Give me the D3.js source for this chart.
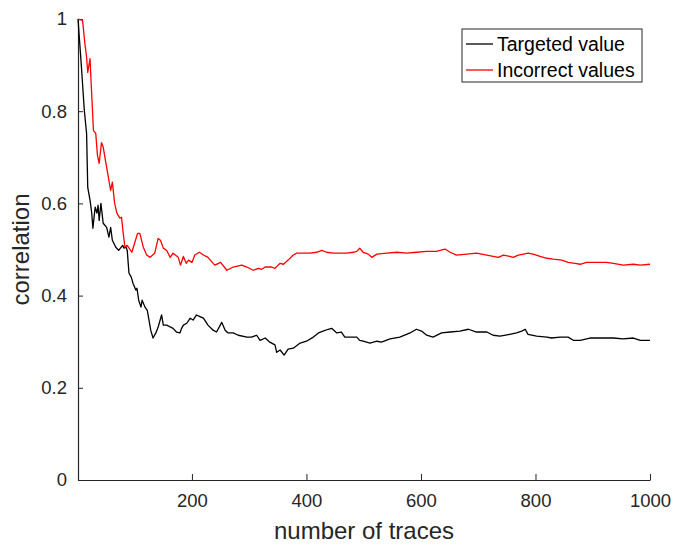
<!DOCTYPE html>
<meta charset="utf-8">
<head>
  <title>Correlation vs number of traces</title>
</head>
<style>
  body { margin: 0; background: #fff; }
  .tick text { font-family: "Liberation Sans", Arial, sans-serif; font-size: 18.5px; fill: #262626; }
  .lbl { font-family: "Liberation Sans", Arial, sans-serif; font-size: 24px; fill: #262626; }
  .leg { font-family: "Liberation Sans", Arial, sans-serif; font-size: 19.5px; fill: #000; }
</style>
<body>
<svg id="chart" width="680" height="548"></svg>
<script src="https://cdn.jsdelivr.net/npm/d3@7/dist/d3.min.js"></script>
<script>
// targeted key (black)
var targetX = [1, 7, 12, 16, 18, 22, 25, 27, 31, 34, 36, 38, 41, 45, 51, 55, 58, 61, 67, 72, 79, 81, 85, 87,
  90, 94, 97, 102, 104, 107, 111, 113, 118, 122, 125, 128, 132, 137, 141, 147, 150, 156, 162, 167, 173, 179,
  182, 185, 191, 197, 202, 208, 213, 220, 228, 237, 243, 252, 258, 263, 272, 281, 296, 304, 313, 319, 328,
  336, 345, 348, 354, 361, 368, 377, 389, 400, 412, 421, 429, 438, 444, 453, 461, 467, 476, 488, 493, 499,
  511, 523, 531, 546, 563, 581, 592, 601, 610, 621, 636, 651, 668, 683, 697, 715, 726, 738, 755, 767, 776,
  782, 787, 802, 820, 828, 843, 857, 866, 878, 895, 918, 936, 953, 971, 983, 1000];
var targetY = [1.0, 0.896, 0.802, 0.752, 0.635, 0.607, 0.579, 0.546, 0.592, 0.579, 0.596, 0.563, 0.600, 0.557,
  0.548, 0.527, 0.548, 0.520, 0.505, 0.498, 0.509, 0.503, 0.505, 0.498,
  0.449, 0.440, 0.427, 0.412, 0.416, 0.390, 0.375, 0.390, 0.375, 0.368, 0.347, 0.325, 0.308, 0.319, 0.332,
  0.358, 0.336, 0.336, 0.332, 0.329, 0.321, 0.319,
  0.329, 0.336, 0.340, 0.351, 0.347, 0.358, 0.355, 0.351, 0.336, 0.325, 0.321, 0.342, 0.325, 0.319, 0.319,
  0.314, 0.310, 0.310, 0.314, 0.303, 0.308,
  0.299, 0.293, 0.277, 0.282, 0.271, 0.284, 0.286, 0.297, 0.301, 0.310, 0.319, 0.323, 0.327, 0.329, 0.319,
  0.321, 0.310, 0.310, 0.310, 0.303, 0.301,
  0.297, 0.301, 0.299, 0.306, 0.310, 0.319, 0.327, 0.323, 0.314, 0.310, 0.319, 0.321, 0.323, 0.327, 0.321,
  0.321, 0.314, 0.312, 0.316, 0.319, 0.323,
  0.327, 0.316, 0.312, 0.310, 0.308, 0.310, 0.310, 0.303, 0.303, 0.308, 0.308, 0.308, 0.306, 0.308, 0.303, 0.303];

// incorrect keys (red)
var wrongX = [1, 9, 13, 16, 18, 22, 24, 28, 32, 35, 38, 42, 45, 49, 54, 58, 61, 65, 69, 74, 77, 80, 83, 87,
  95, 100, 105, 109, 115, 121, 127, 135, 141, 145, 150, 156, 162, 167, 176, 180, 185, 190, 194, 200, 205,
  213, 220, 228, 237, 240, 250, 261, 272, 287, 296, 307, 316, 322, 328, 339, 345, 354, 360, 368, 377, 383,
  394, 406, 418, 427, 435, 447, 459, 470, 482, 488, 493, 499, 508, 514, 523, 540, 558, 575, 592, 610, 627,
  642, 651, 662, 680, 697, 715, 735, 744, 755, 761, 770, 779, 787, 796, 808, 820, 831, 846, 857, 869, 878,
  889, 907, 924, 936, 953, 971, 983, 1000];
var wrongY = [1.0, 0.997, 0.947, 0.917, 0.884, 0.914, 0.860, 0.758, 0.752, 0.704, 0.687, 0.732, 0.722, 0.693,
  0.657, 0.628, 0.646, 0.600, 0.579, 0.568, 0.570, 0.535, 0.505, 0.509,
  0.494, 0.514, 0.535, 0.535, 0.505, 0.488, 0.483, 0.492, 0.524, 0.520, 0.503, 0.498, 0.483, 0.492, 0.483,
  0.466, 0.485, 0.470, 0.477, 0.472, 0.488,
  0.494, 0.488, 0.483, 0.470, 0.466, 0.472, 0.455, 0.462, 0.466, 0.462, 0.455, 0.459, 0.457, 0.462, 0.462,
  0.459, 0.470, 0.468, 0.477, 0.488, 0.492,
  0.492, 0.492, 0.494, 0.498, 0.494, 0.492, 0.492, 0.492, 0.494, 0.496, 0.503, 0.494, 0.490, 0.483, 0.490,
  0.492, 0.494, 0.492, 0.494, 0.496, 0.496,
  0.501, 0.494, 0.488, 0.490, 0.492, 0.488, 0.483, 0.488, 0.485, 0.483, 0.488, 0.490, 0.492, 0.490, 0.485,
  0.481, 0.479, 0.477, 0.472, 0.470, 0.468,
  0.472, 0.472, 0.472, 0.470, 0.466, 0.468, 0.466, 0.468];

var xTicks = [200, 400, 600, 800, 1000];
var yTicks = [0, 0.2, 0.4, 0.6, 0.8, 1];
var seriesNames = ["Targeted value", "Incorrect values"];
var seriesColors = ["#000000", "#ff0000"];

var svg = d3.select("#chart");
var mLeft = 78, mRight = 650, mTop = 19, mBottom = 480;

var x = d3.scaleLinear().domain([1, 1000]).range([mLeft, mRight]);
var y = d3.scaleLinear().domain([0, 1]).range([mBottom, mTop]);

// axes, MATLAB style: ticks inward, box off
var xAxis = svg.append("g")
  .attr("transform", "translate(0," + mBottom + ")")
  .call(d3.axisBottom(x).tickValues(xTicks).tickSizeInner(-6).tickSizeOuter(0).tickPadding(14).tickFormat(d3.format("d")));
var yAxis = svg.append("g")
  .attr("transform", "translate(" + mLeft + ",0)")
  .call(d3.axisLeft(y).tickValues(yTicks).tickSizeInner(-5).tickSizeOuter(0).tickPadding(11).tickFormat(function(d) { return d3.format("")(d); }));

[xAxis, yAxis].forEach(function(a) {
  a.select(".domain").attr("stroke", "#262626").attr("stroke-width", 1.2);
  a.selectAll(".tick line").attr("stroke", "#262626").attr("stroke-width", 1);
});
xAxis.selectAll(".tick text").attr("dy", "0.71em");

var line = d3.line()
  .x(function(d) { return x(d[0]); })
  .y(function(d) { return y(d[1]); });

var series = [d3.zip(targetX, targetY), d3.zip(wrongX, wrongY)];

// black plotted first, red on top
series.forEach(function(s, i) {
  svg.append("path")
    .datum(s)
    .attr("fill", "none")
    .attr("stroke", seriesColors[i])
    .attr("stroke-width", 1.3)
    .attr("stroke-linejoin", "round")
    .attr("d", line);
});

// axis labels
svg.append("text").attr("class", "lbl")
  .attr("x", (mLeft + mRight) / 2).attr("y", 539)
  .attr("text-anchor", "middle")
  .text("number of traces");
svg.append("text").attr("class", "lbl")
  .attr("transform", "translate(29," + (mTop + mBottom) / 2 + ") rotate(-90)")
  .attr("text-anchor", "middle")
  .text("correlation");

// legend
var leg = svg.append("g").attr("transform", "translate(462,29)");
leg.append("rect")
  .attr("width", 180).attr("height", 53)
  .attr("fill", "#fff").attr("stroke", "#262626").attr("stroke-width", 1);
seriesNames.forEach(function(name, i) {
  var yy = 15 + i * 26;
  leg.append("line")
    .attr("x1", 4).attr("x2", 31).attr("y1", yy).attr("y2", yy)
    .attr("stroke", seriesColors[i]).attr("stroke-width", 1.3);
  leg.append("text").attr("class", "leg")
    .attr("x", 35).attr("y", yy).attr("dy", "0.35em")
    .text(name);
});
</script>
</body>
</html>
